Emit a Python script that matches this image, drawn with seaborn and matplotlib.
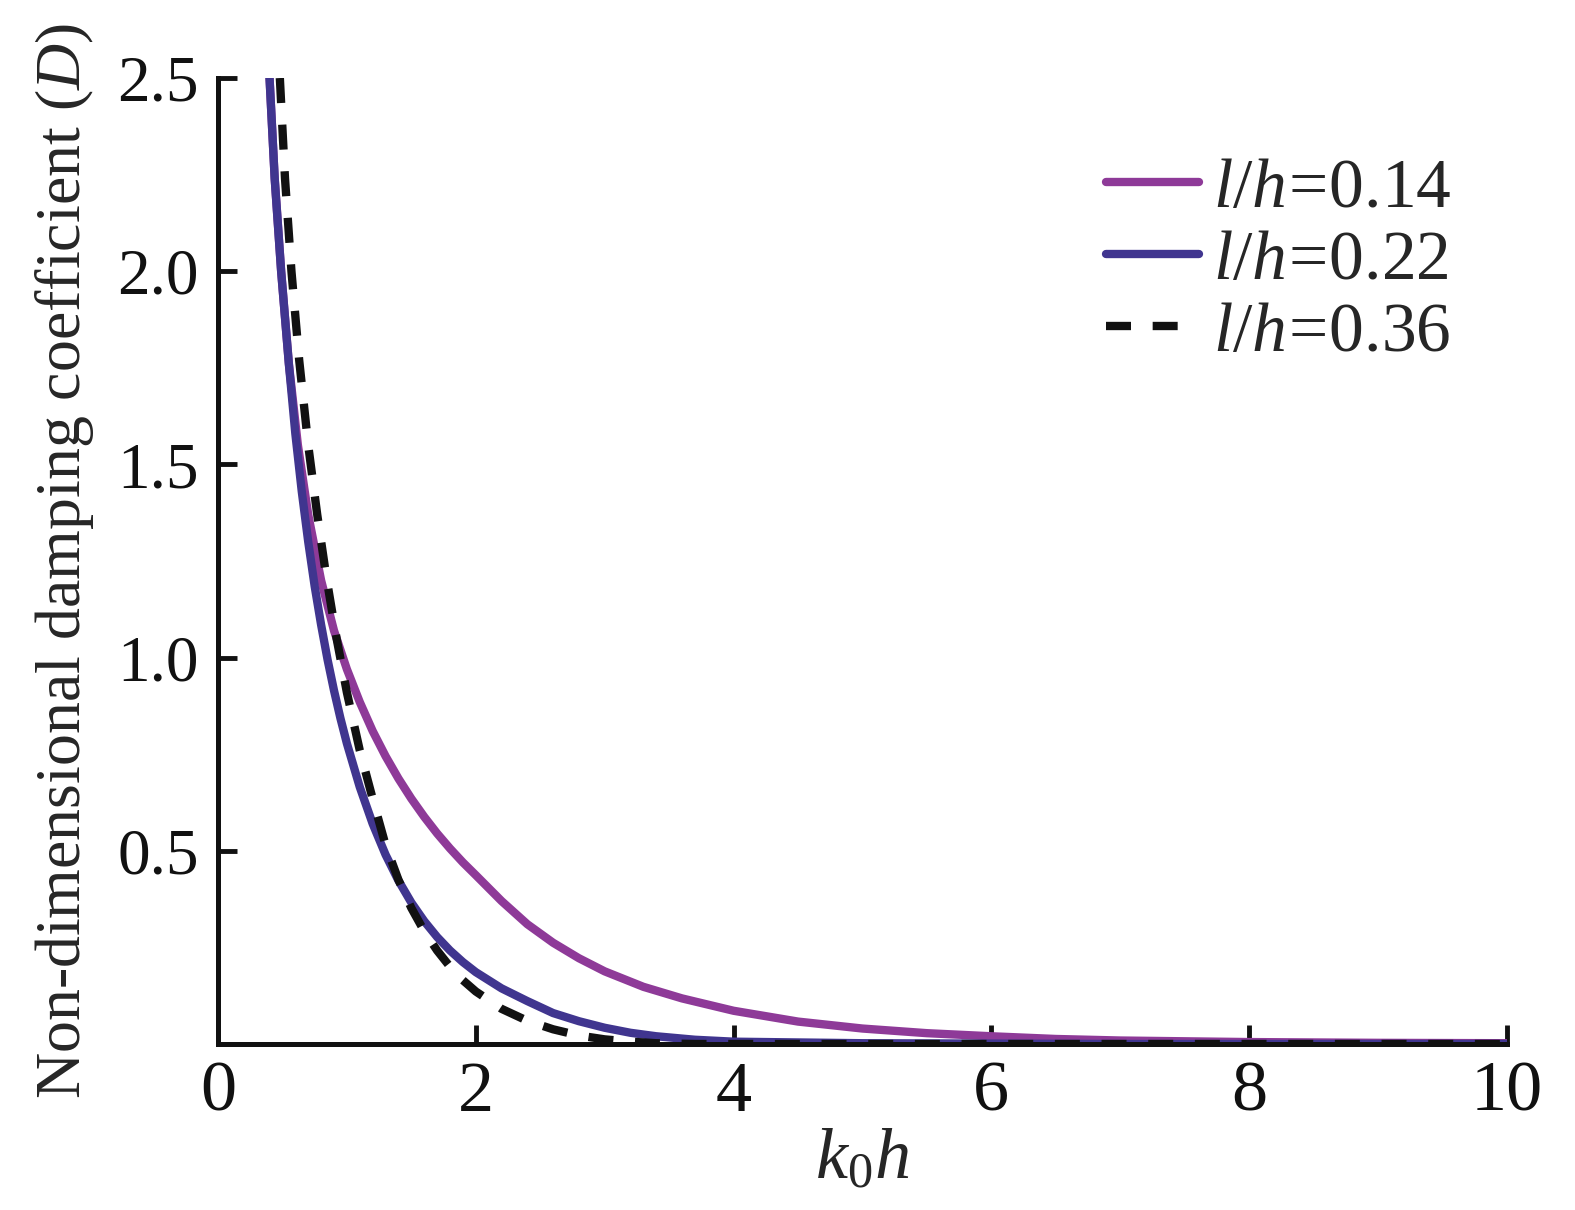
import numpy as np
import pandas as pd
import matplotlib
matplotlib.use("Agg")
import matplotlib.pyplot as plt
import seaborn as sns

# valores (k0h, D)
x_014 = [0.40, 0.44, 0.49, 0.55, 0.62, 0.70, 0.80, 0.90, 1.00, 1.10, 1.20, 1.30, 1.40,
         1.50, 1.60, 1.70, 1.80, 1.90, 2.00, 2.20, 2.40, 2.60, 2.80, 3.00, 3.30, 3.60,
         4.00, 4.50, 5.00, 5.50, 6.00, 6.50, 7.00, 8.00, 9.00, 10.0]
d_014 = [2.50, 2.24, 2.00, 1.76, 1.55, 1.37, 1.20, 1.07, 0.97, 0.885, 0.81, 0.745, 0.687,
         0.635, 0.588, 0.545, 0.506, 0.470, 0.437, 0.370, 0.310, 0.262, 0.222, 0.188, 0.148,
         0.118, 0.086, 0.058, 0.040, 0.028, 0.020, 0.013, 0.009, 0.005, 0.003, 0.002]

x_022 = [0.40, 0.44, 0.49, 0.55, 0.60, 0.65, 0.70, 0.75, 0.80, 0.85, 0.90, 0.95, 1.00,
         1.10, 1.20, 1.30, 1.40, 1.50, 1.60, 1.70, 1.80, 1.90, 2.00, 2.20, 2.40, 2.60,
         2.80, 3.00, 3.20, 3.40, 3.70, 4.00, 4.50, 5.00, 6.00, 7.00, 10.0]
d_022 = [2.50, 2.24, 2.00, 1.76, 1.58, 1.43, 1.30, 1.185, 1.085, 0.995, 0.915, 0.843, 0.778,
         0.665, 0.570, 0.490, 0.423, 0.366, 0.318, 0.277, 0.242, 0.212, 0.186, 0.144, 0.111,
         0.080, 0.059, 0.042, 0.029, 0.020, 0.011, 0.006, 0.004, 0.002, 0.001, 0.0, 0.0]

x_036 = [0.48, 0.52, 0.57, 0.63, 0.70, 0.77, 0.84, 0.92, 1.00, 1.10, 1.20, 1.30, 1.40,
         1.50, 1.60, 1.70, 1.80, 1.90, 2.00, 2.20, 2.40, 2.60, 2.80, 3.00, 3.20, 3.40,
         3.70, 10.0]
d_036 = [2.50, 2.24, 2.00, 1.77, 1.55, 1.37, 1.21, 1.05, 0.91, 0.76, 0.635, 0.515, 0.425,
         0.352, 0.292, 0.242, 0.200, 0.165, 0.136, 0.091, 0.060, 0.038, 0.022, 0.012, 0.006,
         0.002, 0.0, 0.0]

labels = [r'$l/h\!=\!0.14$', r'$l/h\!=\!0.22$', r'$l/h\!=\!0.36$']
colors = ['#8E3A98', '#40358F', '#111111']

x_ticks = [0, 2, 4, 6, 8, 10]
y_ticks = [0.5, 1.0, 1.5, 2.0, 2.5]
y_ticklabels = ['0.5', '1.0', '1.5', '2.0', '2.5']

sns.set_style("ticks")
plt.rcParams['font.family'] = ['Liberation Serif', 'DejaVu Serif']
plt.rcParams['mathtext.fontset'] = 'custom'
plt.rcParams['mathtext.rm'] = 'Liberation Serif'
plt.rcParams['mathtext.it'] = 'Liberation Serif:italic'

fig = plt.figure(figsize=(15.75, 12.10), dpi=100)
ax = fig.add_axes([0.1384, 0.1372, 0.9568 - 0.1384, 0.9355 - 0.1372])

lw = 6
sns.lineplot(x=x_014, y=d_014, ax=ax, color=colors[0], lw=lw, label=labels[0], sort=False)
sns.lineplot(x=x_022, y=d_022, ax=ax, color=colors[1], lw=lw, label=labels[1], sort=False)
sns.lineplot(x=x_036, y=d_036, ax=ax, color=colors[2], lw=lw, label=labels[2], sort=False,
             linestyle=(0, (3.0, 2.6)))

ax.set_xlim(0, 10)
ax.set_ylim(0, 2.5)
ax.set_xticks(x_ticks)
ax.set_xticklabels([str(t) for t in x_ticks], fontsize=52)
ax.set_yticks(y_ticks)
ax.set_yticklabels(y_ticklabels, fontsize=47)
ax.tick_params(axis='both', direction='in', length=14, width=3.5, colors='#111111')
ax.tick_params(axis='x', pad=12)
ax.tick_params(axis='y', pad=14)

for side in ['left', 'bottom']:
    ax.spines[side].set_linewidth(3.6)
    ax.spines[side].set_color('#111111')
sns.despine(ax=ax)

ax.set_xlabel(r'$k_0h$', fontsize=52, labelpad=2)
ax.set_ylabel('Non-dimensional damping coefficient ($D$)', fontsize=46)
ax.yaxis.set_label_coords(-0.095, 0.50)

leg = ax.legend(loc='upper left', bbox_to_anchor=(0.680, 0.898), bbox_transform=fig.transFigure,
                frameon=False, fontsize=50, handlelength=1.35, handletextpad=0.2,
                labelspacing=0.12, borderpad=0)
for line in leg.get_lines():
    line.set_linewidth(6)

fig.savefig('out.png', dpi=100)
